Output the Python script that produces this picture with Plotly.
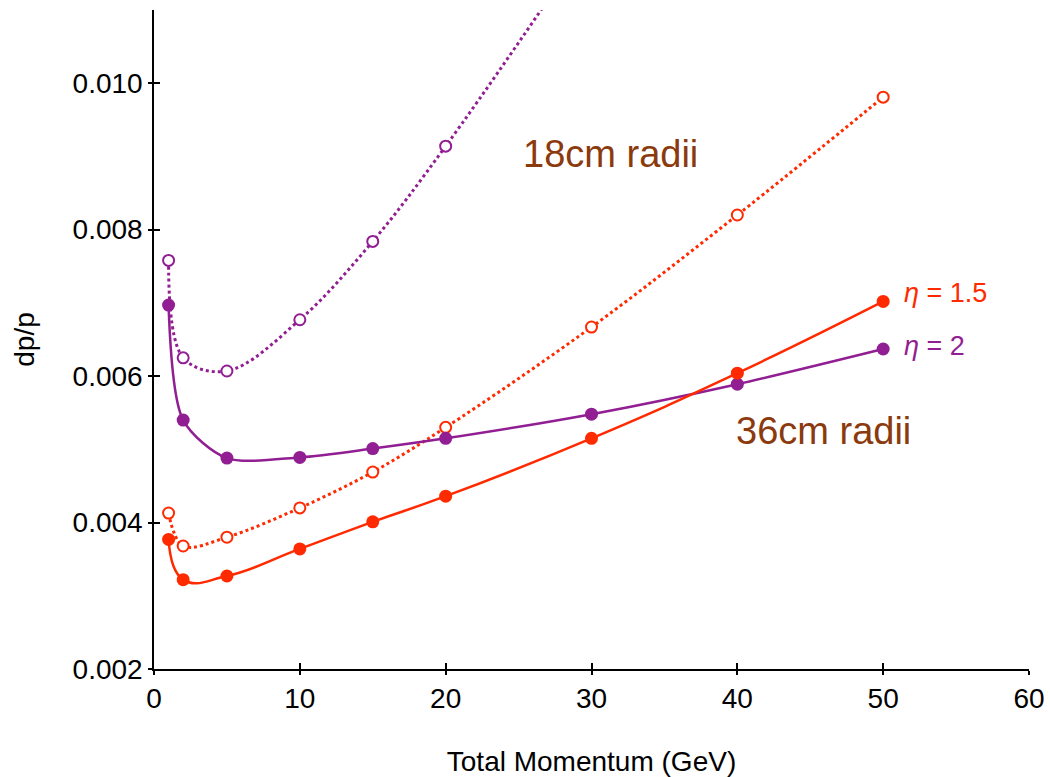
import plotly.graph_objects as go

momentum = [1, 2, 5, 10, 15, 20, 30, 40, 50]

# 36cm radii (solid, filled markers)
eta15_36cm = [0.00377, 0.00322, 0.00327, 0.00364, 0.00401, 0.00436, 0.00515, 0.00604, 0.00702]
eta2_36cm = [0.00697, 0.00540, 0.00488, 0.00489, 0.00501, 0.00515, 0.00548, 0.00589, 0.00637]

# 18cm radii (dotted, open markers)
eta15_18cm = [0.00413, 0.00368, 0.00380, 0.00420, 0.00469, 0.00530, 0.00667, 0.00820, 0.00981]
eta2_18cm = [0.00758, 0.00625, 0.00607, 0.00677, 0.00784, 0.00914, 0.01200, 0.01490, 0.01790]

RED = "#FF2A00"
PURPLE = "#911E92"
BROWN = "#8B3A0E"
FONT = "Liberation Sans, Arial, Helvetica, sans-serif"

fig = go.Figure()

def add(y, color, dotted, smooth):
    fig.add_trace(go.Scatter(
        x=momentum, y=y, mode="lines+markers",
        line=dict(color=color, width=3 if dotted else 2.5,
                  dash="dot" if dotted else "solid", shape="spline", smoothing=smooth),
        marker=dict(size=11 if dotted else 13,
                    color="white" if dotted else color,
                    line=dict(color=color, width=2 if dotted else 0)),
        showlegend=False, cliponaxis=True,
    ))

add(eta2_18cm, PURPLE, True, 1.0)
add(eta15_18cm, RED, True, 1.0)
add(eta2_36cm, PURPLE, False, 0.8)
add(eta15_36cm, RED, False, 1.3)

# invisible trace for overlay axes (inside tick parts)
fig.add_trace(go.Scatter(x=[None], y=[None], xaxis="x2", yaxis="y2", showlegend=False))

xr = [0, 60]
yr = [0.002, 0.011]
TS = 28

fig.update_layout(
    width=1050, height=777,
    margin=dict(l=154, r=21, t=10, b=108),
    paper_bgcolor="white", plot_bgcolor="white",
    font=dict(family=FONT, size=TS, color="black"),
    xaxis=dict(range=xr, tickvals=[0, 10, 20, 30, 40, 50, 60],
               showgrid=False, zeroline=False, showline=True, linecolor="black", linewidth=1.5,
               ticks="outside", ticklen=4, tickwidth=1.5, tickcolor="black",
               tickfont=dict(size=TS),
               title=dict(text="Total Momentum (GeV)", font=dict(size=TS), standoff=40),
               automargin=False),
    yaxis=dict(range=yr, tickvals=[0.002, 0.004, 0.006, 0.008, 0.010], tickformat=".3f",
               showgrid=False, zeroline=False, showline=True, linecolor="black", linewidth=1.5,
               ticks="outside", ticklen=4, tickwidth=1.5, tickcolor="black",
               tickfont=dict(size=TS),
               title=dict(text="dp/p", font=dict(size=TS), standoff=30),
               automargin=False),
    xaxis2=dict(range=xr, overlaying="x", tickvals=[0, 10, 20, 30, 40, 50, 60],
                showgrid=False, zeroline=False, showline=False, showticklabels=False,
                ticks="inside", ticklen=6, tickwidth=1.5, tickcolor="black", side="bottom"),
    yaxis2=dict(range=yr, overlaying="y", tickvals=[0.002, 0.004, 0.006, 0.008, 0.010],
                showgrid=False, zeroline=False, showline=False, showticklabels=False,
                ticks="inside", ticklen=6, tickwidth=1.5, tickcolor="black", side="left"),
)

fig.add_annotation(x=25.15, y=0.00904, xref="x", yref="y", text="18cm radii", showarrow=False,
                   xanchor="left", yanchor="middle", font=dict(size=38, color=BROWN, family=FONT))
fig.add_annotation(x=39.8, y=0.00525, xref="x", yref="y", text="36cm radii", showarrow=False,
                   xanchor="left", yanchor="middle", font=dict(size=38, color=BROWN, family=FONT))
fig.add_annotation(x=51.3, y=0.00713, xref="x", yref="y", text="<i>η</i> = 1.5", showarrow=False,
                   xanchor="left", yanchor="middle", font=dict(size=27, color=RED, family=FONT))
fig.add_annotation(x=51.3, y=0.00641, xref="x", yref="y", text="<i>η</i> = 2", showarrow=False,
                   xanchor="left", yanchor="middle", font=dict(size=27, color=PURPLE, family=FONT))

fig.write_html("out.html")
